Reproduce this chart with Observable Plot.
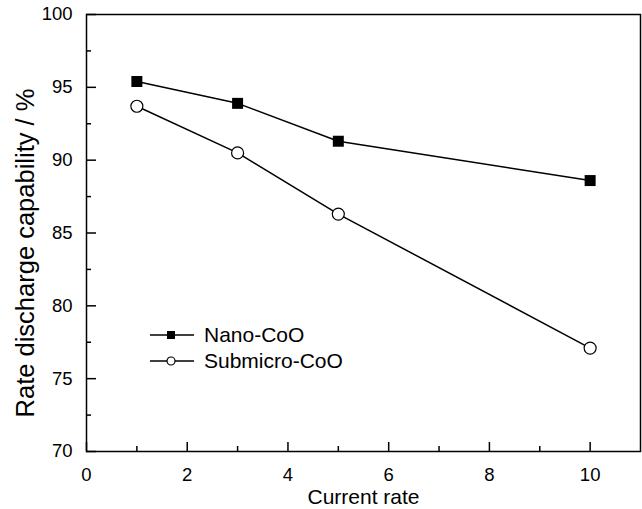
<!DOCTYPE html>
<html><head><meta charset="utf-8">
<script src="https://cdn.jsdelivr.net/npm/d3@7"></script>
<script src="https://cdn.jsdelivr.net/npm/@observablehq/plot@0.6"></script>
<style>
html,body{margin:0;padding:0;background:#fff;}
#wrap{position:relative;width:642px;height:509px;font-family:"Liberation Sans",Arial,sans-serif;}
#legend{position:absolute;left:148px;top:322px;font-size:21px;color:#000;line-height:26px;}
#legend div{display:flex;align-items:center;height:26px;}
#legend svg{margin-right:8px;}
</style>
</head><body>
<div id="wrap"><div id="legend"></div></div>
<script>
const xVals = [1, 3, 5, 10];
const nano = [95.4, 93.9, 91.3, 88.6];
const sub = [93.7, 90.5, 86.3, 77.1];
const seriesNames = ["Nano-CoO", "Submicro-CoO"];
const xTicks = [0, 2, 4, 6, 8, 10];
const xMinor = [1, 3, 5, 7, 9];
const yTicks = [70, 75, 80, 85, 90, 95, 100];
const yMinor = [72.5, 77.5, 82.5, 87.5, 92.5, 97.5];
const xLabel = "Current rate";
const yLabel = "Rate discharge capability / %";

const data = [
  ...xVals.map((x, i) => ({x, y: nano[i], s: seriesNames[0]})),
  ...xVals.map((x, i) => ({x, y: sub[i], s: seriesNames[1]}))
];
const blank = () => "";

const chart = Plot.plot({
  width: 642, height: 509,
  marginLeft: 86, marginRight: 2, marginTop: 14, marginBottom: 58,
  x: {domain: [0, 11]},
  y: {domain: [70, 100]},
  style: {fontFamily: "'Liberation Sans', Arial, sans-serif", fontSize: "18px", color: "#000", background: "#fff"},
  marks: [
    Plot.axisX({ticks: xTicks, tickSize: -9, tickFormat: blank, label: null, strokeWidth: 1.5}),
    Plot.axisX({ticks: xMinor, tickSize: -5, tickFormat: blank, label: null, strokeWidth: 1.5}),
    Plot.axisY({ticks: yTicks, tickSize: -10, tickFormat: blank, label: null, strokeWidth: 1.5}),
    Plot.axisY({ticks: yMinor, tickSize: -5, tickFormat: blank, label: null, strokeWidth: 1.5}),
    Plot.axisX({ticks: xTicks, tickSize: 0, tickPadding: 16, fontSize: 18.5, label: null}),
    Plot.axisY({ticks: yTicks, tickSize: 0, tickPadding: 14, fontSize: 18.5, label: null}),
    Plot.text([xLabel], {frameAnchor: "bottom", lineAnchor: "middle", dy: 46, fontSize: 21, fill: "#000"}),
    Plot.text([yLabel], {frameAnchor: "left", textAnchor: "middle", lineAnchor: "middle", dx: -61, dy: 20, rotate: -90, fontSize: 25.5, fill: "#000"}),
    Plot.frame({stroke: "#000", strokeWidth: 1.5}),
    Plot.line(data, {x: "x", y: "y", z: "s", stroke: "#000", strokeWidth: 1.5}),
    Plot.dot(data.filter(d => d.s === seriesNames[0]), {x: "x", y: "y", symbol: "square", r: 6.2, fill: "#000", stroke: "none"}),
    Plot.dot(data.filter(d => d.s === seriesNames[1]), {x: "x", y: "y", symbol: "circle", r: 6, fill: "#fff", stroke: "#000", strokeWidth: 1.2})
  ]
});
document.getElementById("wrap").prepend(chart);

const legend = document.getElementById("legend");
seriesNames.forEach((name, i) => {
  const row = document.createElement("div");
  const sym = i === 0
    ? '<rect x="19" y="5" width="8" height="8" fill="#000"/>'
    : '<circle cx="23" cy="9" r="4" fill="#fff" stroke="#000" stroke-width="1.2"/>';
  row.innerHTML = `<svg width="48" height="18"><line x1="2" x2="46" y1="9" y2="9" stroke="#000" stroke-width="1.5"/>${sym}</svg><span>${name}</span>`;
  legend.appendChild(row);
});
</script>
</body></html>
